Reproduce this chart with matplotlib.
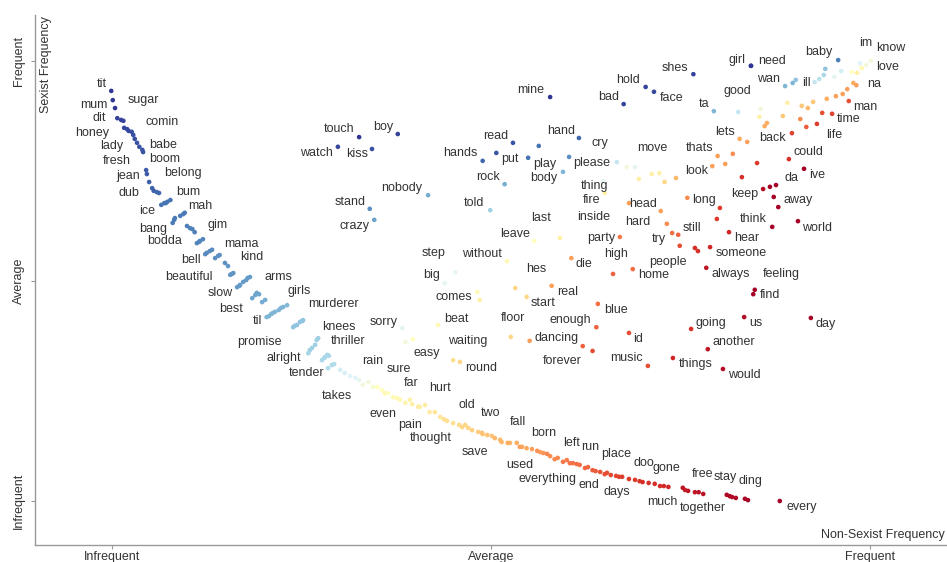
import matplotlib
matplotlib.use("Agg")
import matplotlib.pyplot as plt

# Scaled frequency ranks (0 = infrequent, 1 = frequent) and category score (0 = sexist, 1 = non-sexist)
words = ['tit', 'mum', 'sugar', 'dit', 'comin', 'honey', 'lady', 'babe', 'fresh', 'boom',
         'jean', 'belong', 'dub', 'bum', 'ice', 'mah', 'bang', 'gim', 'bodda', 'mama',
         'bell', 'kind', 'beautiful', 'arms', 'slow', 'girls', 'best', 'til', 'murderer', 'promise',
         'knees', 'alright', 'thriller', 'tender', 'takes', 'sorry', 'rain', 'sure', 'easy', 'far',
         'even', 'hurt', 'pain', 'thought', 'beat', 'waiting', 'round', 'old', 'two', 'save',
         'fall', 'used', 'born', 'everything', 'left', 'run', 'end', 'place', 'days', 'doo',
         'gone', 'much', 'together', 'free', 'stay', 'ding', 'every', 'touch', 'boy', 'watch',
         'kiss', 'nobody', 'stand', 'crazy', 'mine', 'bad', 'hold', 'face', 'shes', 'read',
         'hand', 'cry', 'put', 'hands', 'play', 'please', 'body', 'rock', 'told', 'thing',
         'fire', 'move', 'last', 'inside', 'party', 'leave', 'step', 'without', 'big', 'hes',
         'die', 'high', 'comes', 'real', 'start', 'floor', 'blue', 'enough', 'dancing', 'forever',
         'id', 'music', 'going', 'us', 'day', 'another', 'things', 'would', 'find', 'feeling',
         'home', 'people', 'always', 'someone', 'hear', 'try', 'still', 'hard', 'head', 'long',
         'think', 'world', 'away', 'keep', 'da', 'ive', 'could', 'look', 'thats', 'lets',
         'back', 'life', 'time', 'man', 'na', 'love', 'know', 'im', 'baby', 'girl',
         'need', 'wan', 'ill', 'good', 'ta']

word_x = [-0.001, 0.001, 0.004, 0.007, 0.012, 0.016, 0.028, 0.040, 0.033, 0.041,
          0.045, 0.049, 0.053, 0.062, 0.065, 0.096, 0.080, 0.106, 0.112, 0.132,
          0.125, 0.142, 0.156, 0.182, 0.165, 0.191, 0.185, 0.204, 0.252, 0.239,
          0.272, 0.259, 0.284, 0.285, 0.307, 0.383, 0.331, 0.350, 0.397, 0.371,
          0.360, 0.393, 0.404, 0.433, 0.430, 0.450, 0.459, 0.442, 0.462, 0.488,
          0.505, 0.522, 0.538, 0.561, 0.574, 0.600, 0.613, 0.634, 0.653, 0.673,
          0.700, 0.708, 0.760, 0.753, 0.774, 0.811, 0.881, 0.326, 0.377, 0.298,
          0.343, 0.417, 0.340, 0.346, 0.578, 0.675, 0.704, 0.715, 0.767, 0.529,
          0.616, 0.603, 0.507, 0.489, 0.549, 0.666, 0.595, 0.518, 0.499, 0.648,
          0.650, 0.690, 0.591, 0.682, 0.670, 0.557, 0.453, 0.521, 0.439, 0.532,
          0.606, 0.661, 0.482, 0.580, 0.547, 0.526, 0.641, 0.639, 0.551, 0.621,
          0.682, 0.707, 0.764, 0.834, 0.922, 0.786, 0.740, 0.806, 0.846, 0.848,
          0.687, 0.769, 0.784, 0.789, 0.814, 0.749, 0.747, 0.732, 0.724, 0.759,
          0.871, 0.905, 0.879, 0.859, 0.876, 0.913, 0.893, 0.792, 0.799, 0.828,
          0.897, 0.930, 0.950, 0.972, 0.982, 0.995, 1.001, 0.987, 0.958, 0.843,
          0.843, 0.888, 0.902, 0.826, 0.794]

word_y = [0.932, 0.911, 0.893, 0.870, 0.866, 0.848, 0.832, 0.798, 0.814, 0.793,
          0.752, 0.725, 0.711, 0.700, 0.673, 0.655, 0.632, 0.618, 0.586, 0.571,
          0.564, 0.559, 0.514, 0.509, 0.486, 0.473, 0.461, 0.418, 0.411, 0.395,
          0.370, 0.336, 0.332, 0.302, 0.291, 0.393, 0.264, 0.259, 0.368, 0.236,
          0.245, 0.230, 0.214, 0.191, 0.400, 0.320, 0.316, 0.182, 0.168, 0.155,
          0.143, 0.132, 0.123, 0.114, 0.107, 0.093, 0.084, 0.070, 0.064, 0.055,
          0.043, 0.041, 0.023, 0.030, 0.020, 0.014, 0.000, 0.827, 0.834, 0.805,
          0.800, 0.695, 0.664, 0.639, 0.918, 0.902, 0.941, 0.930, 0.970, 0.814,
          0.825, 0.782, 0.791, 0.773, 0.780, 0.770, 0.748, 0.720, 0.661, 0.727,
          0.700, 0.759, 0.598, 0.677, 0.600, 0.591, 0.520, 0.545, 0.495, 0.484,
          0.552, 0.516, 0.475, 0.489, 0.464, 0.373, 0.448, 0.395, 0.364, 0.352,
          0.382, 0.307, 0.391, 0.418, 0.416, 0.345, 0.325, 0.300, 0.470, 0.480,
          0.527, 0.575, 0.530, 0.577, 0.611, 0.580, 0.605, 0.630, 0.659, 0.689,
          0.623, 0.636, 0.668, 0.709, 0.718, 0.755, 0.777, 0.761, 0.784, 0.823,
          0.836, 0.857, 0.880, 0.909, 0.945, 0.991, 1.000, 0.995, 1.002, 0.989,
          0.989, 0.943, 0.957, 0.884, 0.886]

word_score = [0.00, 0.00, 0.00, 0.02, 0.02, 0.03, 0.04, 0.05, 0.05, 0.05,
              0.06, 0.07, 0.07, 0.08, 0.10, 0.11, 0.11, 0.12, 0.13, 0.14,
              0.14, 0.15, 0.16, 0.17, 0.17, 0.19, 0.19, 0.22, 0.25, 0.25,
              0.28, 0.29, 0.30, 0.31, 0.38, 0.42, 0.45, 0.50, 0.50, 0.52,
              0.52, 0.55, 0.56, 0.58, 0.52, 0.60, 0.62, 0.60, 0.62, 0.66,
              0.68, 0.70, 0.72, 0.74, 0.76, 0.78, 0.80, 0.83, 0.85, 0.88,
              0.90, 0.90, 0.95, 0.95, 0.96, 0.98, 1.00, 0.00, 0.02, 0.03,
              0.04, 0.20, 0.15, 0.18, 0.00, 0.02, 0.02, 0.03, 0.02, 0.05,
              0.08, 0.15, 0.05, 0.08, 0.10, 0.35, 0.22, 0.20, 0.28, 0.42,
              0.55, 0.42, 0.55, 0.72, 0.78, 0.50, 0.42, 0.52, 0.42, 0.62,
              0.72, 0.82, 0.52, 0.72, 0.62, 0.62, 0.80, 0.82, 0.72, 0.82,
              0.85, 0.85, 0.90, 0.97, 1.00, 0.95, 0.92, 0.97, 1.00, 1.00,
              0.80, 0.90, 0.95, 0.92, 0.92, 0.85, 0.82, 0.75, 0.72, 0.75,
              1.00, 1.00, 1.00, 0.97, 1.00, 1.00, 0.90, 0.72, 0.72, 0.70,
              0.87, 0.88, 0.87, 0.85, 0.72, 0.45, 0.45, 0.40, 0.12, 0.00,
              0.00, 0.22, 0.25, 0.35, 0.22]

# Unlabelled terms
other_x = [0.015, 0.020, 0.022, 0.026, 0.030, 0.036, 0.046, 0.055, 0.059, 0.069,
           0.073, 0.077, 0.083, 0.090, 0.099, 0.109, 0.116, 0.120, 0.136, 0.149,
           0.153, 0.160, 0.169, 0.173, 0.177, 0.189, 0.198, 0.202, 0.210, 0.215,
           0.220, 0.226, 0.244, 0.248, 0.264, 0.268, 0.277, 0.281, 0.290, 0.301,
           0.314, 0.321, 0.326, 0.338, 0.356, 0.364, 0.380, 0.387, 0.406, 0.413,
           0.419, 0.426, 0.450, 0.466, 0.470, 0.475, 0.495, 0.501, 0.512, 0.514,
           0.534, 0.554, 0.569, 0.584, 0.588, 0.595, 0.608, 0.624, 0.628, 0.644,
           0.658, 0.665, 0.682, 0.690, 0.716, 0.723, 0.734, 0.780, 0.818, 0.823,
           0.839,
           0.563, 0.679, 0.387, 0.485, 0.634, 0.695, 0.712, 0.722, 0.729, 0.744,
           0.809, 0.819, 0.838, 0.851, 0.831, 0.802, 0.798, 0.739, 0.773, 0.868,
           0.873, 0.854, 0.856, 0.885, 0.891, 0.861, 0.864, 0.908, 0.916, 0.910,
           0.918, 0.925, 0.937, 0.943, 0.955, 0.964, 0.970, 0.978, 0.976, 0.983,
           0.989, 0.962, 0.953, 0.941, 0.939, 0.933, 0.927, 0.898,
           0.344, 0.376, 0.396, 0.438, 0.458, 0.483, 0.489, 0.525, 0.541, 0.547,
           0.565, 0.578, 0.604, 0.617, 0.638, 0.650, 0.669, 0.696, 0.728, 0.756,
           0.769, 0.815, 0.835,
           0.071, 0.082, 0.094, 0.103, 0.115, 0.123, 0.129, 0.140, 0.158, 0.179,
           0.168, 0.194, 0.207, 0.212, 0.223, 0.231, 0.241, 0.251, 0.261, 0.270,
           0.280, 0.286, 0.293]

other_y = [0.864, 0.845, 0.841, 0.839, 0.823, 0.805, 0.743, 0.705, 0.702, 0.677,
           0.680, 0.684, 0.643, 0.648, 0.625, 0.611, 0.591, 0.595, 0.552, 0.541,
           0.534, 0.518, 0.491, 0.498, 0.502, 0.468, 0.452, 0.457, 0.425, 0.430,
           0.434, 0.441, 0.400, 0.407, 0.348, 0.355, 0.320, 0.327, 0.309, 0.298,
           0.284, 0.280, 0.275, 0.270, 0.252, 0.245, 0.230, 0.223, 0.214, 0.218,
           0.202, 0.202, 0.177, 0.173, 0.166, 0.161, 0.150, 0.148, 0.139, 0.134,
           0.132, 0.118, 0.109, 0.095, 0.098, 0.089, 0.086, 0.075, 0.077, 0.066,
           0.059, 0.057, 0.050, 0.048, 0.039, 0.034, 0.032, 0.016, 0.009, 0.007,
           0.002,
           0.807, 0.759, 0.361, 0.457, 0.341, 0.732, 0.743, 0.745, 0.725, 0.734,
           0.766, 0.789, 0.816, 0.768, 0.736, 0.666, 0.641, 0.609, 0.568, 0.714,
           0.691, 0.873, 0.891, 0.875, 0.905, 0.852, 0.859, 0.868, 0.850, 0.898,
           0.893, 0.907, 0.882, 0.914, 0.920, 0.925, 0.936, 0.950, 0.975, 0.973,
           0.984, 0.977, 0.964, 0.982, 0.968, 0.959, 0.952, 0.950,
           0.259, 0.234, 0.220, 0.186, 0.173, 0.157, 0.152, 0.132, 0.123, 0.120,
           0.111, 0.102, 0.086, 0.082, 0.068, 0.061, 0.055, 0.045, 0.034, 0.025,
           0.020, 0.011, 0.005,
           0.677, 0.639, 0.652, 0.620, 0.589, 0.561, 0.568, 0.557, 0.516, 0.507,
           0.489, 0.470, 0.420, 0.427, 0.439, 0.445, 0.398, 0.409, 0.343, 0.366,
           0.325, 0.330, 0.311]

other_score = [0.02, 0.03, 0.03, 0.04, 0.04, 0.05, 0.06, 0.07, 0.08, 0.10,
               0.10, 0.10, 0.11, 0.11, 0.12, 0.12, 0.13, 0.13, 0.15, 0.15,
               0.16, 0.16, 0.17, 0.17, 0.17, 0.19, 0.20, 0.20, 0.22, 0.22,
               0.22, 0.22, 0.25, 0.25, 0.28, 0.28, 0.30, 0.30, 0.31, 0.38,
               0.40, 0.40, 0.42, 0.45, 0.50, 0.50, 0.52, 0.54, 0.55, 0.56,
               0.57, 0.58, 0.60, 0.62, 0.62, 0.63, 0.66, 0.66, 0.68, 0.68,
               0.70, 0.72, 0.74, 0.76, 0.76, 0.78, 0.79, 0.81, 0.81, 0.84,
               0.86, 0.86, 0.88, 0.88, 0.90, 0.90, 0.92, 0.96, 0.98, 0.98,
               0.99,
               0.10, 0.45, 0.45, 0.55, 0.85, 0.55, 0.55, 0.55, 0.62, 0.68,
               0.72, 0.75, 0.72, 0.88, 0.90, 0.88, 0.88, 0.80, 0.90, 1.00,
               1.00, 0.55, 0.45, 0.65, 0.55, 0.70, 0.70, 0.75, 0.83, 0.65,
               0.68, 0.65, 0.85, 0.70, 0.72, 0.72, 0.72, 0.70, 0.50, 0.55,
               0.52, 0.38, 0.42, 0.25, 0.30, 0.33, 0.35, 0.22,
               0.47, 0.52, 0.55, 0.60, 0.61, 0.64, 0.65, 0.69, 0.71, 0.71,
               0.73, 0.75, 0.79, 0.80, 0.83, 0.85, 0.87, 0.89, 0.91, 0.94,
               0.95, 0.98, 0.99,
               0.10, 0.11, 0.12, 0.12, 0.13, 0.14, 0.14, 0.15, 0.16, 0.17,
               0.17, 0.19, 0.22, 0.22, 0.22, 0.23, 0.25, 0.25, 0.28, 0.28,
               0.30, 0.30, 0.31]

# label placement (offset from the dot, in pixels)
label_offsets = [(-9, 7), (-19, -5), (28, 8), (-18, 0), (41, -2), (-32, -5), (-22, -11), (21, 5), (-20, -18), (22, -7),
                 (-18, -6), (34, 9), (-23, -5), (29, 1), (-14, -6), (16, 7), (-19, -6), (25, 4), (-32, 2), (29, 6),
                 (-16, -7), (32, -2), (-41, -2), (28, 0), (-17, -6), (42, 2), (-21, -11), (-9, -4), (30, 16), (-34, -15),
                 (21, 11), (-25, -5), (21, 14), (-21, -5), (-8, -23), (-19, 6), (10, 24), (22, 18), (14, -14), (18, 14),
                 (-2, -21), (30, 12), (-8, -18), (-9, -21), (18, 6), (15, 19), (21, -6), (20, 16), (28, 14), (-7, -19),
                 (23, 16), (12, -22), (24, 14), (10, -28), (24, 11), (23, 13), (12, -21), (24, 16), (10, -19), (22, 14),
                 (24, 14), (14, -19), (15, -17), (20, 14), (27, 15), (24, 14), (22, -6), (-20, 8), (-15, 7), (-21, -6),
                 (-15, -5), (-26, 7), (-20, 7), (-20, -6), (-19, 7), (-15, 7), (-18, 7), (18, -6), (-18, 6), (-17, 7),
                 (-18, 7), (31, 14), (14, -6), (-22, 8), (17, -6), (-25, -1), (-19, -6), (-17, 7), (-16, 7), (-9, -5),
                 (-13, -7), (17, 19), (-19, 20), (-35, -14), (-19, -1), (-19, 7), (-22, 19), (-25, 7), (-13, 8), (21, 19),
                 (13, -6), (3, 20), (-24, -5), (16, -6), (16, -6), (2, 19), (18, -6), (-26, 7), (27, 3), (-20, -15),
                 (9, -6), (-21, 8), (20, 6), (12, -6), (15, -6), (26, 7), (23, -6), (21, -6), (17, -1), (27, 16),
                 (21, -6), (-27, -14), (24, -6), (31, -6), (18, -6), (-21, 7), (14, 7), (-29, 2), (-18, 7), (17, -2),
                 (-19, 8), (19, -7), (20, 7), (-18, -5), (15, 7), (13, -6), (20, 7), (-16, -5), (-18, 8), (-15, 7),
                 (-19, -5), (17, -11), (16, -5), (17, -6), (18, 1), (21, -2), (20, 13), (6, 20), (-19, 8), (-14, 6),
                 (21, 5), (-17, 7), (11, -3), (-1, 21), (-10, 7)]

plt.rcParams['font.family'] = ['Liberation Sans', 'DejaVu Sans']
text_color = '#333333'
axis_color = '#999999'
cmap = plt.get_cmap('RdYlBu_r')

fig = plt.figure(figsize=(9.47, 5.62), dpi=100)
ax = fig.add_axes([35 / 947, 17 / 562, 912 / 947, 530 / 562])

ax.scatter(other_x, other_y, c=other_score, cmap=cmap, vmin=0, vmax=1, s=11, linewidths=0, zorder=2)
ax.scatter(word_x, word_y, c=word_score, cmap=cmap, vmin=0, vmax=1, s=11, linewidths=0, zorder=3)

for w, x, y, off in zip(words, word_x, word_y, label_offsets):
    ax.annotate(w, (x, y), xytext=off, textcoords='offset pixels',
                ha='center', va='center', fontsize=9, color=text_color, zorder=4)

ax.set_xlim(-0.1016, 1.1016)
ax.set_ylim(-0.1, 1.1045)

for side in ['top', 'right']:
    ax.spines[side].set_visible(False)
for side in ['left', 'bottom']:
    ax.spines[side].set_color(axis_color)
    ax.spines[side].set_linewidth(1.0)

ticks = [0, 0.5, 1]
tick_labels = ['Infrequent', 'Average', 'Frequent']
ax.set_xticks(ticks)
ax.set_xticklabels(tick_labels)
ax.set_yticks(ticks)
ax.set_yticklabels(tick_labels, rotation=90, va='center')
ax.tick_params(axis='both', colors=axis_color, labelcolor=text_color, labelsize=9, length=3)
ax.tick_params(axis='x', pad=1)
ax.tick_params(axis='y', pad=4)

ax.text(0.012, 0.998, 'Sexist Frequency', transform=ax.transAxes, rotation=90,
        ha='center', va='top', fontsize=9, color=text_color)
ax.text(0.998, 0.019, 'Non-Sexist Frequency', transform=ax.transAxes,
        ha='right', va='center', fontsize=9, color=text_color)

fig.savefig('out.png', dpi=100)
